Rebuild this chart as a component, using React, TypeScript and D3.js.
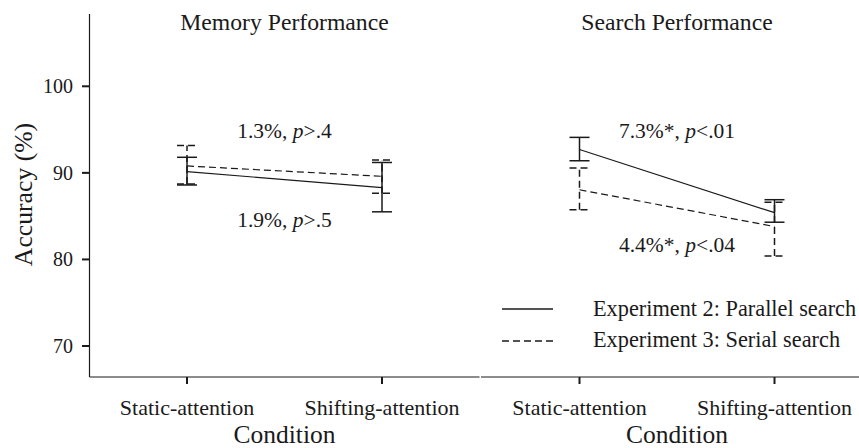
import React from 'react';
import * as d3 from 'd3';

const conditions = ['Static-attention', 'Shifting-attention'];
const yTicks = [70, 80, 90, 100];
const panels = ['Memory Performance', 'Search Performance'];
const seriesNames = ['Experiment 2: Parallel search', 'Experiment 3: Serial search'];

// [panel][series] -> values per condition
const means = [
  [[90.15, 88.3], [90.8, 89.6]],
  [[92.7, 85.4], [88.05, 83.8]],
];
const lows = [
  [[88.6, 85.5], [88.7, 87.65]],
  [[91.4, 84.3], [85.75, 80.4]],
];
const highs = [
  [[91.8, 91.2], [93.15, 91.5]],
  [[94.1, 86.9], [90.55, 86.6]],
];
const upperNotes = ['1.3%, ', '7.3%*, '];
const upperP = ['>.4', '<.01'];
const lowerNotes = ['1.9%, ', '4.4%*, '];
const lowerP = ['>.5', '<.04'];

const W = 859;
const H = 448;
const FONT = "'Liberation Serif', 'DejaVu Serif', 'Times New Roman', Times, serif";
const INK = '#1a1a1a';
const DASH = '7 4';

export default function App() {
  const y = d3.scaleLinear().domain([70, 100]).range([346, 86.3]);
  const panelLeft = [89.5, 481];
  const panelRight = [479.5, 870];
  const xs = panels.map((_, i) =>
    d3.scalePoint<string>().domain(conditions).range([187 + i * 392.5, 382 + i * 392.5])
  );
  const line = (xsc: d3.ScalePoint<string>) =>
    d3.line<number>().x((_, i) => xsc(conditions[i]) as number).y((d) => y(d));
  const capW = 10;
  const axisY = 377;

  return (
    <svg width={W} height={H}
      style={{ position: 'absolute', left: 0, top: 0, background: '#fff', fontFamily: FONT }}
      fill={INK}>
      {/* y axis */}
      <line x1={89.5} x2={89.5} y1={14} y2={axisY} stroke={INK} strokeWidth={1.2} />
      {yTicks.map((t) => (
        <g key={t}>
          <line x1={82} x2={89.5} y1={y(t)} y2={y(t)} stroke={INK} strokeWidth={2} />
          <text x={73} y={y(t) + 7} textAnchor="end" fontSize={20}>{t}</text>
        </g>
      ))}
      <text transform={`translate(32,194.5) rotate(-90)`} textAnchor="middle" fontSize={25.7}>Accuracy (%)</text>

      {panels.map((title, p) => {
        const xsc = xs[p];
        const mid = ((xsc(conditions[0]) as number) + (xsc(conditions[1]) as number)) / 2;
        return (
          <g key={title}>
            <line x1={panelLeft[p]} x2={panelRight[p]} y1={axisY} y2={axisY} stroke={INK} strokeWidth={1.2} />
            {conditions.map((c) => (
              <g key={c}>
                <line x1={xsc(c)} x2={xsc(c)} y1={axisY} y2={axisY + 7} stroke={INK} strokeWidth={2} />
                <text x={xsc(c)} y={415} textAnchor="middle" fontSize={22}>{c}</text>
              </g>
            ))}
            <text x={mid} y={442.5} textAnchor="middle" fontSize={25.5}>Condition</text>
            <text x={mid} y={30} textAnchor="middle" fontSize={23.7}>{title}</text>

            {means[p].map((vals, s) => {
              const dash = s === 1 ? DASH : undefined;
              return (
                <g key={s} fill="none" stroke={INK} strokeWidth={1.2} strokeDasharray={dash}>
                  <path d={line(xsc)(vals) as string} />
                  {conditions.map((c, ci) => {
                    const cx = xsc(c) as number;
                    return (
                      <g key={c}>
                        <line x1={cx} x2={cx} y1={y(lows[p][s][ci])} y2={y(highs[p][s][ci])} strokeWidth={1.5} />
                        <line x1={cx - capW} x2={cx + capW} y1={y(lows[p][s][ci])} y2={y(lows[p][s][ci])} strokeWidth={1.5} />
                        <line x1={cx - capW} x2={cx + capW} y1={y(highs[p][s][ci])} y2={y(highs[p][s][ci])} strokeWidth={1.5} />
                      </g>
                    );
                  })}
                </g>
              );
            })}

            <text x={mid} y={137.5} textAnchor="middle" fontSize={21.5}>
              {upperNotes[p]}<tspan fontStyle="italic">p</tspan>{upperP[p]}
            </text>
            <text x={mid} y={p === 0 ? 227 : 251.5} textAnchor="middle" fontSize={21.5}>
              {lowerNotes[p]}<tspan fontStyle="italic">p</tspan>{lowerP[p]}
            </text>
          </g>
        );
      })}

      {/* legend */}
      {seriesNames.map((name, i) => (
        <g key={name}>
          <line x1={502} x2={553} y1={309 + i * 32} y2={309 + i * 32} stroke={INK} strokeWidth={1.3}
            strokeDasharray={i === 1 ? DASH : undefined} />
          <text x={593} y={316 + i * 31} fontSize={22.3}>{name}</text>
        </g>
      ))}
    </svg>
  );
}
